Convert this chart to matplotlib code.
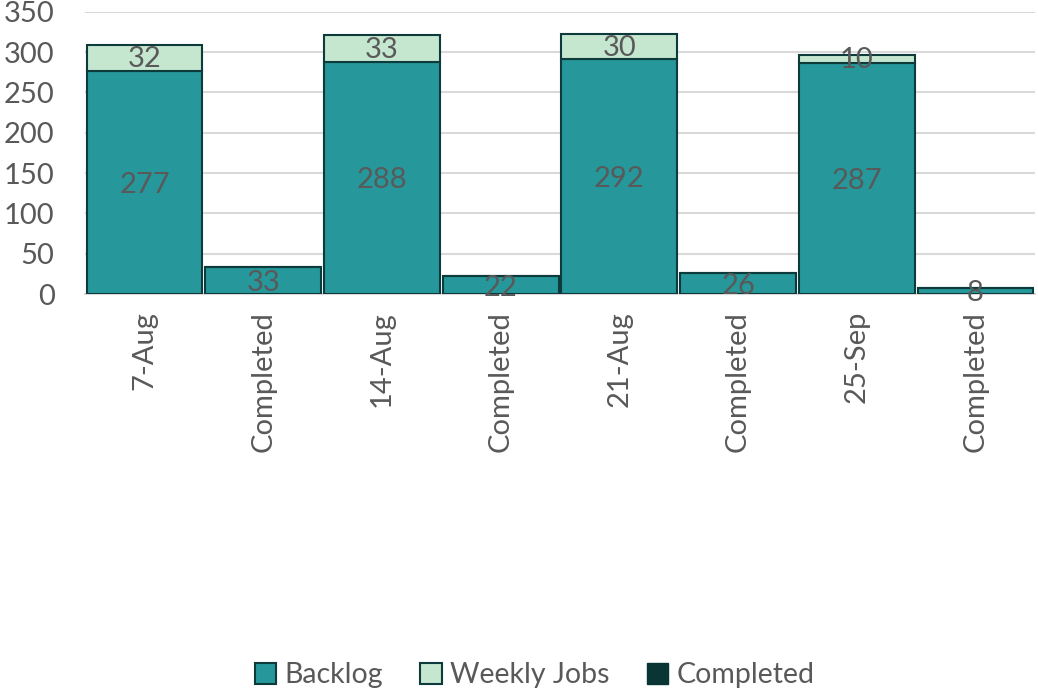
import numpy as np
import matplotlib.pyplot as plt
from matplotlib.patches import Patch

plt.rcParams['font.family'] = ['Lato', 'DejaVu Sans']

categories = ['7-Aug', 'Completed', '14-Aug', 'Completed', '21-Aug', 'Completed', '25-Sep', 'Completed']
backlog = [277, 33, 288, 22, 292, 26, 287, 8]
weekly = [32, 0, 33, 0, 30, 0, 10, 0]
completed = [0, 0, 0, 0, 0, 0, 0, 0]

c_backlog = '#26979a'
c_weekly = '#c5e6cf'
c_completed = '#093535'
edge = '#0d3b3b'
txt = '#595959'

fig = plt.figure(figsize=(10.38, 6.92), dpi=100)
ax = fig.add_axes([0.082, 0.575, 0.915, 0.408])

x = np.arange(len(categories))
w = 0.975
b1 = ax.bar(x, backlog, w, color=c_backlog, edgecolor=edge, linewidth=1.5, zorder=3)
b2 = ax.bar(x, weekly, w, bottom=backlog, color=c_weekly, edgecolor=edge, linewidth=1.5, zorder=3)

for i in range(len(x)):
    ax.text(x[i], backlog[i] / 2 - 3, str(backlog[i]), ha='center', va='center',
            fontsize=21, color=txt, zorder=4)
    if weekly[i] > 0:
        ax.text(x[i], backlog[i] + weekly[i] / 2 - 2, str(weekly[i]), ha='center', va='center',
                fontsize=21, color=txt, zorder=4)

ax.set_xlim(-0.5, len(x) - 0.5)
ax.set_ylim(0, 350)
ax.set_yticks(range(0, 351, 50))
ax.yaxis.grid(True, color='#d9d9d9', linewidth=1.5, zorder=0)
ax.set_axisbelow(True)
for s in ['top', 'right', 'left']:
    ax.spines[s].set_visible(False)
ax.spines['bottom'].set_color('#d9d9d9')
ax.spines['bottom'].set_linewidth(1.5)
ax.tick_params(axis='both', length=0, labelsize=21, labelcolor=txt)
ax.tick_params(axis='x', pad=12)
ax.tick_params(axis='y', pad=22)
ax.set_xticks(x)
ax.set_xticklabels(categories, rotation=90)

handles = [Patch(facecolor=c_backlog, edgecolor=edge, linewidth=1.5, label='Backlog'),
           Patch(facecolor=c_weekly, edgecolor=edge, linewidth=1.5, label='Weekly Jobs'),
           Patch(facecolor=c_completed, edgecolor=c_completed, label='Completed')]
leg = fig.legend(handles=handles, loc='center', bbox_to_anchor=(0.515, 0.024), ncol=3,
                 frameon=False, fontsize=20.5, handlelength=0.75, handleheight=0.75,
                 handletextpad=0.3, columnspacing=1.3)
for t in leg.get_texts():
    t.set_color(txt)

plt.savefig('out.png', dpi=100)
